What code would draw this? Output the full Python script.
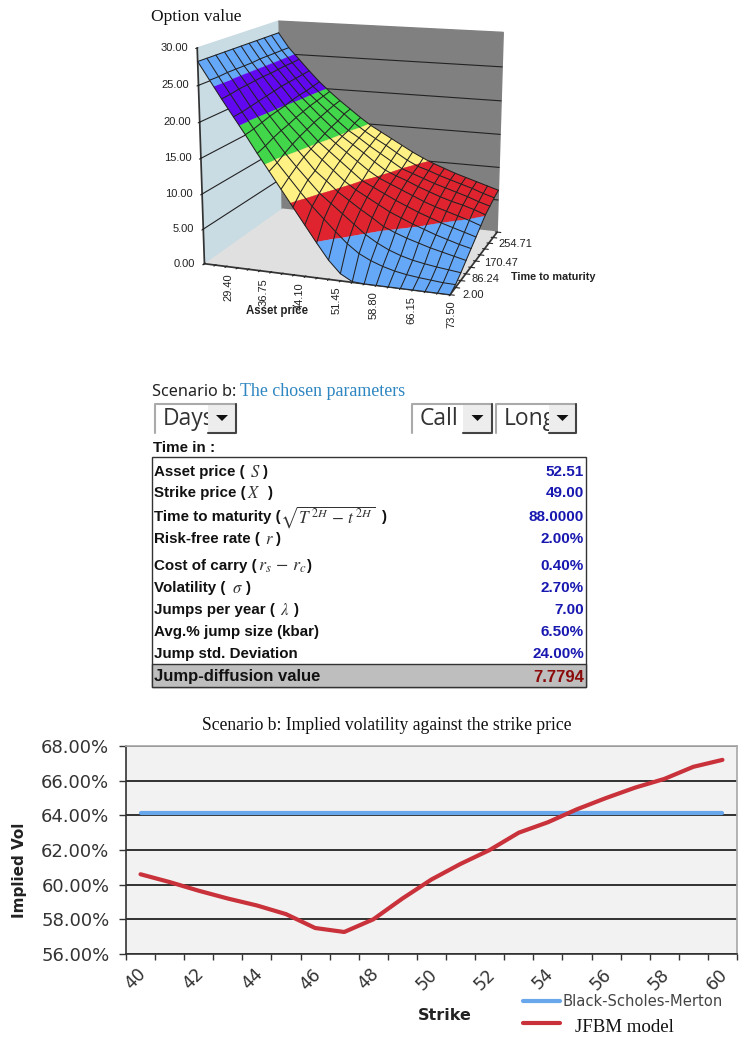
import numpy as np, pandas as pd, seaborn as sns, matplotlib
matplotlib.use("Agg")
import matplotlib.pyplot as plt
from matplotlib.patches import Rectangle, Polygon
from matplotlib.lines import Line2D
from matplotlib.ticker import FuncFormatter, FixedLocator
from matplotlib.transforms import ScaledTranslation
from mpl_toolkits.mplot3d import proj3d
from mpl_toolkits.mplot3d.art3d import Poly3DCollection

asset_prices = [22.05,24.5,26.95,29.4,31.85,34.3,36.75,39.2,41.65,44.1,46.55,49.0,51.45,53.9,56.35,58.8,61.25,63.7,66.15,68.6,71.05,73.5]
times = [2.0,30.08,58.16,86.24,114.31,142.39,170.47,198.55,226.63,254.71,282.78]
v00=[28.2,25.8,23.4,21.1,18.8,16.4,14.1,11.8,9.5,7.2,4.9,2.7,1.0,0.1,0,0,0,0,0,0,0,0]
v01=[28.2,25.8,23.5,21.2,19.0,16.8,14.6,12.7,10.8,9.0,7.4,5.8,4.3,3.1,2.3,1.7,1.25,.95,.75,.6,.45,.4]
v02=[28.2,25.9,23.7,21.4,19.3,17.3,15.3,13.5,11.8,10.1,8.8,7.5,6.2,4.9,3.9,3.1,2.5,2.05,1.75,1.5,1.3,1.1]
v03=[28.2,25.9,23.8,21.6,19.6,17.7,15.9,14.2,12.4,11.1,9.7,8.6,7.5,6.5,5.4,4.7,4.1,3.6,3.1,2.7,2.3,1.9]
v04=[28.2,25.9,23.9,21.8,19.8,18.0,16.4,14.7,13.3,11.9,10.5,9.4,8.5,7.6,6.7,6.0,5.3,4.7,4.1,3.6,3.1,2.7]
v05=[28.2,25.9,24.0,22.0,20.0,18.4,16.8,15.2,13.9,12.6,11.3,10.0,9.2,8.4,7.6,6.9,6.2,5.6,5.0,4.5,4.0,3.5]
v06=[28.2,26.0,24.0,22.2,20.3,18.7,17.2,15.7,14.4,13.2,12.0,10.8,9.8,9.1,8.4,7.7,7.0,6.4,5.9,5.4,4.9,4.3]
v07=[28.2,26.0,24.1,22.3,20.5,19.0,17.5,16.1,14.8,13.7,12.6,11.4,10.3,9.6,9.0,8.3,7.7,7.1,6.6,6.2,5.7,5.1]
v08=[28.2,26.0,24.2,22.4,20.6,19.2,17.8,16.4,15.1,14.1,13.0,12.0,11.0,10.0,9.4,8.8,8.2,7.7,7.2,6.7,6.1,5.6]
v09=[28.2,26.0,24.2,22.5,20.8,19.4,18.1,16.9,15.6,14.5,13.5,12.6,11.6,10.6,9.8,9.3,8.7,8.2,7.7,7.2,6.6,6.1]
v10=[28.2,26.0,24.3,22.6,21.0,19.6,18.3,17.1,15.9,14.8,13.9,13.0,12.1,11.2,10.4,9.7,9.1,8.5,8.0,7.5,7.0,6.5]
band_levels=[0,5,10,15,20,25,30]
band_colors=["#66A8F8","#DF2430","#FFF184","#42D64A","#6208F0","#66A8F8"]

table_labels=["Asset price (","Strike price (","Time to maturity (","Risk-free rate (","Cost of carry (","Volatility (","Jumps per year (","Avg.% jump size (kbar)","Jump std. Deviation"]
table_symbols=[r"$S$",r"$X$",r"$\sqrt{T^{\,2H}\,-\,t^{\,2H}}$",r"$r$",r"$r_s\,-\,r_c$",r"$\sigma$",r"$\lambda$","",""]
table_values=["52.51","49.00","88.0000","2.00%","0.40%","2.70%","7.00","6.50%","24.00%"]
result_label="Jump-diffusion value"; result_value="7.7794"

strikes=list(range(40,61))
bsm=[64.15]*21
jfbm=[60.6,60.15,59.65,59.2,58.8,58.3,57.5,57.27,58.0,59.2,60.3,61.2,62.0,63.0,63.6,64.35,65.0,65.6,66.1,66.8,67.2]
series_names=["Black-Scholes-Merton","JFBM model"]
series_colors=["#69A7EC","#C9323A"]

W,H=746,1046
sns.set_theme(style="white")
plt.rcParams['mathtext.fontset']='stix'
fig=plt.figure(figsize=(W/100,H/100),dpi=100,facecolor="white")

# ---------- 3D surface
ax3=fig.add_axes([0.22398,0.67930,0.49489,0.35295],projection='3d',proj_type='persp',focal_length=0.5835)
ax3.set_xlim(asset_prices[0],asset_prices[-1]);ax3.set_ylim(times[0],times[-1]);ax3.set_zlim(0,30)
ax3.view_init(14.042,-70.533,0)
ax3.set_box_aspect((1.2327,0.9542,1.0589))
ax3.patch.set_alpha(0); ax3.grid(False)
for axis,col in ((ax3.xaxis,"#C9DBE3"),(ax3.yaxis,"#808080"),(ax3.zaxis,"#E0E0E0")):
    axis.set_pane_color(col); axis.pane.set_edgecolor(col); axis.line.set_color("#333333")
    axis._axinfo['tick']['linewidth']={True:.8,False:.8}; axis._axinfo['tick']['color']="#222222"
    axis.offsetText.set_visible(False); axis.label.set_visible(False)
ax3.set_xticks(asset_prices); ax3.set_xticklabels([])
ax3.set_yticks(times); ax3.set_yticklabels([])
ax3.set_zticks(band_levels); ax3.set_zticklabels([])
ax3.tick_params(labelbottom=False,labelleft=False)
ax3.zaxis.set_ticks_position('lower')
ax3.computed_zorder=False
X=np.array(asset_prices);Y=np.array(times);Z=np.array([v00,v01,v02,v03,v04,v05,v06,v07,v08,v09,v10],float)
# tick labels: data position projected through the 3D axes, then a small offset in pixels
tick_font=dict(family="Liberation Sans",fontsize=8,color="#222222",zorder=6)
proj=ax3.get_proj()
def axis_label(x,y,z,s,dx_px,dy_px,**kw):
    xv,yv,_=proj3d.proj_transform(x,y,z,proj)
    ax3.text2D(xv,yv,s,transform=ax3.transData+ScaledTranslation(dx_px/100,dy_px/100,fig.dpi_scale_trans),**tick_font,**kw)
for s,ox in zip(asset_prices[3::3],[-9,-7,-6,-4,-3,-1,1]):
    axis_label(s,Y[0],0,f"{s:.2f}",ox,-6,rotation=90,ha="center",va="top")
for lv in band_levels:
    axis_label(X[0],Y[0],lv,f"{lv:.2f}",-9,0,ha="right",va="center")
for t,ox,oy in zip(times[::3],[12,6,4,5],[0,-5,-8,-6]):
    axis_label(X[-1],t,0,f"{t:.2f}",ox,oy,ha="left",va="center")
for lv in band_levels[1:-1]:
    ax3.plot([X[0],X[0],X[-1]],[Y[0],Y[-1],Y[-1]],[lv,lv,lv],color="#222",lw=.8,zorder=1)
def clip(poly,lo,hi):
    def cut(P,f):
        out=[]
        for i in range(len(P)):
            a,b=P[i],P[(i+1)%len(P)]; fa,fb=f(a),f(b)
            if fa>=0: out.append(a)
            if fa*fb<0: out.append(a+(b-a)*fa/(fa-fb))
        return out
    P=cut(list(poly),lambda q:q[2]-lo)
    if P: P=cut(P,lambda q:hi-q[2])
    return P
polys=[];cols=[]
for j in range(len(Y)-1):
    for i in range(len(X)-1):
        q=np.array([(X[i],Y[j],Z[j,i]),(X[i+1],Y[j],Z[j,i+1]),(X[i+1],Y[j+1],Z[j+1,i+1]),(X[i],Y[j+1],Z[j+1,i])])
        for b in range(6):
            P=clip(q,band_levels[b],band_levels[b+1])
            if len(P)>=3: polys.append(np.array(P));cols.append(band_colors[b])
ax3.add_collection3d(Poly3DCollection(polys,facecolors=cols,edgecolors=cols,linewidths=.25,zorder=2))
for j in range(len(Y)): ax3.plot(X,[Y[j]]*len(X),Z[j],color="#222",lw=.75,zorder=3)
for i in range(len(X)): ax3.plot([X[i]]*len(Y),Y,Z[:,i],color="#222",lw=.75,zorder=3)

# ---------- overlay for captions and the parameter table
ov=fig.add_axes([0,0,1,1],facecolor="none");ov.set_xlim(0,W);ov.set_ylim(H,0);ov.axis("off")
ov.text(151,17,"Option value",family="Liberation Serif",fontsize=12.5,va="center",color="#111")
ov.text(277,311,"Asset price",family="Liberation Sans",weight="bold",fontsize=8.3,ha="center",va="center",color="#222")
ov.text(511,277,"Time to maturity",family="Liberation Sans",weight="bold",fontsize=7.8,va="center",color="#222")
ov.text(152,392,"Scenario b:",family="Noto Sans",fontsize=11.7,va="center",color="#222")
ov.text(240,392,"The chosen parameters",family="Liberation Serif",fontsize=12.9,va="center",color="#2E86C1")
def dropdown(x0,x1,xb,txt):
    ov.add_patch(Rectangle((x0,404),x1-x0,29,fc="white",ec="none"))
    ov.text(x0+8,419,txt,family="Open Sans",fontsize=16.5,va="center",color="#333",zorder=3)
    ov.add_patch(Rectangle((xb,404),x1-xb,29,fc="#EDEDED",ec="none",zorder=4))
    ov.plot([x0,x0,x1],[433,404,404],color="#AAAAAA",lw=1.5,zorder=5)
    ov.plot([xb,x1,x1],[432.5,432.5,404],color="#444444",lw=1.5,zorder=5)
    xc=(xb+x1)/2
    ov.add_patch(Polygon([(xc-6,415),(xc+6,415),(xc,421)],fc="#111",ec="none",zorder=6))
dropdown(155,236,208,"Days");dropdown(412,492,463,"Call");dropdown(496,576,549,"Long")
bold=dict(family="Liberation Sans",weight="bold",va="center")
ov.text(153,448,"Time in :",fontsize=10.9,color="#111",**bold)
ov.add_patch(Rectangle((152,457),434,230,fc="white",ec="#333",lw=1))
ov.add_patch(Rectangle((152,664),434,23,fc="#BEBEBE",ec="#333",lw=1))
row_y=[472,493,517,539,566,588,610,632,654]
sym_x=[250,247,280,265,258,232,280,0,0]; close_x=[263,268,382,276,307,246,294,0,0]; sym_size=[12,12,12.4,12,13,12,12,12,12]
for lab,sy,val,y,sx,cx,sz in zip(table_labels,table_symbols,table_values,row_y,sym_x,close_x,sym_size):
    ov.text(154,y,lab,fontsize=10.9,color="#111",**bold)
    if sy:
        ov.text(sx,y,sy,fontsize=sz,va="center",color="#333")
        ov.text(cx,y,")",fontsize=10.9,color="#111",**bold)
    ov.text(584,y,val,fontsize=11,ha="right",color="#1818B0",**bold)
ov.text(154,677,result_label,fontsize=12,color="#111",**bold)
ov.text(584,677,result_value,fontsize=12,ha="right",color="#8B0A0A",**bold)
ov.text(387,726,"Scenario b: Implied volatility against the strike price",family="Liberation Serif",fontsize=12.7,ha="center",va="center",color="#111")
ov.text(20,870,"Implied Vol",family="DejaVu Sans",weight="bold",fontsize=11,rotation=90,ha="center",va="center",color="#222")
ov.text(445,1015,"Strike",family="DejaVu Sans",weight="bold",fontsize=11.5,ha="center",va="center",color="#222")

# ---------- line chart
ax=fig.add_axes([126/W,1-954/H,(737-126)/W,208/H],facecolor="#F2F2F2")
df=pd.DataFrame({"Strike":strikes*2,"Vol":bsm+jfbm,"Series":[series_names[0]]*21+[series_names[1]]*21})
sns.lineplot(data=df,x="Strike",y="Vol",hue="Series",palette=series_colors,lw=3,ax=ax,zorder=3,legend=False)
ax.set_xlim(39.5,60.5);ax.set_ylim(56,68)
ax.set_yticks(range(56,69,2));ax.yaxis.set_major_formatter(FuncFormatter(lambda v,_:f"{v:.2f}%"))
ax.xaxis.set_major_locator(FixedLocator(np.arange(39.5,61,1)));ax.xaxis.set_major_formatter(FuncFormatter(lambda v,_:""))
ax.xaxis.set_minor_locator(FixedLocator(np.arange(40,61,2)));ax.xaxis.set_minor_formatter(FuncFormatter(lambda v,_:f"{v:.0f}"))
ax.tick_params(axis="x",which="major",length=4,width=1,color="#333",bottom=True)
ax.tick_params(axis="x",which="minor",length=0,pad=8,labelsize=12.5,labelcolor="#333",labelrotation=45,bottom=False)
ax.tick_params(axis="y",length=5,width=1,color="#333",left=True,labelsize=13,labelcolor="#333",pad=7)
for lab in ax.get_xticklabels(minor=True):
    lab.set_transform(lab.get_transform()+ScaledTranslation(-5/100,0,fig.dpi_scale_trans))
ax.grid(axis="y",color="#111",lw=1.2);ax.set_axisbelow(True)
for sp in ("top","right"): ax.spines[sp].set_color("#AAAAAA")
for sp in ("left","bottom"): ax.spines[sp].set_color("#333");ax.spines[sp].set_linewidth(1.2)
ax.set_xlabel("");ax.set_ylabel("")
def legend_entry(name,col,px,py,font,pad_px,line_up_pt=0):
    h=Line2D([0],[0],color=col,lw=3)
    leg=ax.legend([h],[name],loc="center left",bbox_to_anchor=(px,py),bbox_transform=ov.transData,frameon=False,
                  prop=font,handlelength=37/(font["size"]*100/72),handletextpad=pad_px/(font["size"]*100/72),
                  borderpad=0,borderaxespad=0)
    leg.get_texts()[0].set_color("#444444" if col==series_colors[0] else "#111111")
    line=leg.get_lines()[0]; line.set_ydata(np.asarray(line.get_ydata(),float)+line_up_pt)
    leg.set_clip_on(False)
    return leg
l1=legend_entry(series_names[0],series_colors[0],523,1002,{"family":"DejaVu Sans","size":10.6},2)
ax.add_artist(l1)
l2=legend_entry(series_names[1],series_colors[1],523,1027,{"family":"Liberation Serif","size":13.6},15,1.5)
fig.savefig("out.png",dpi=100)
